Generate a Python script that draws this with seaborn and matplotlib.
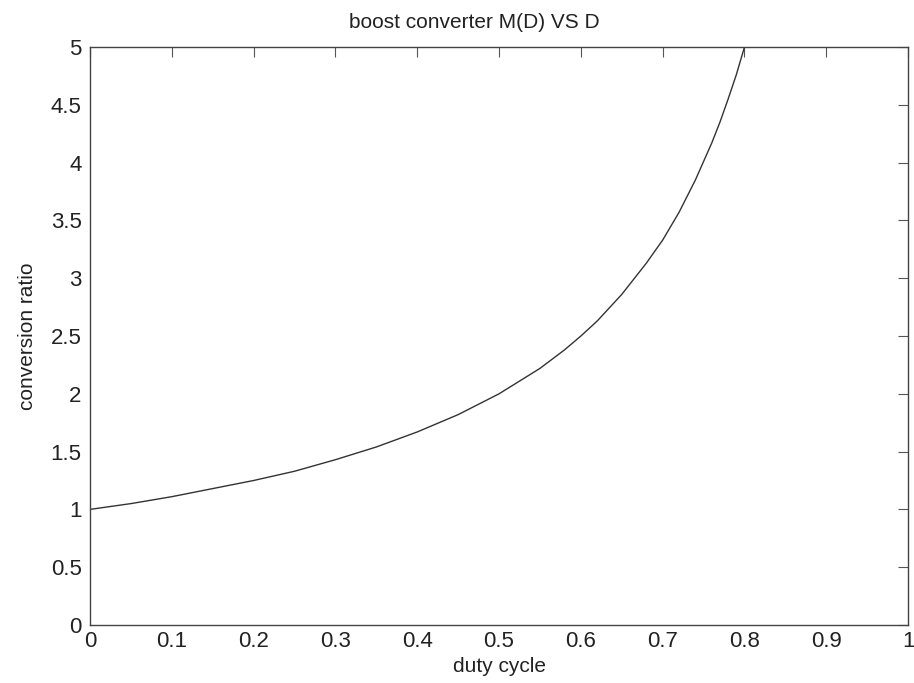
import pandas as pd
import seaborn as sns
import matplotlib.pyplot as plt

# values
duty = [0.0, 0.05, 0.1, 0.15, 0.2, 0.25, 0.3, 0.35, 0.4, 0.45, 0.5, 0.55,
        0.58, 0.6, 0.62, 0.65, 0.68, 0.7, 0.72, 0.74, 0.76, 0.77, 0.78, 0.79, 0.8]
ratio = [1.0, 1.05, 1.11, 1.18, 1.25, 1.33, 1.43, 1.54, 1.67, 1.82, 2.0, 2.22,
         2.38, 2.5, 2.63, 2.86, 3.13, 3.33, 3.57, 3.85, 4.17, 4.35, 4.55, 4.76, 5.0]

xticks = [0, 0.1, 0.2, 0.3, 0.4, 0.5, 0.6, 0.7, 0.8, 0.9, 1]
xlabels = ['0', '0.1', '0.2', '0.3', '0.4', '0.5', '0.6', '0.7', '0.8', '0.9', '1']
yticks = [0, 0.5, 1, 1.5, 2, 2.5, 3, 3.5, 4, 4.5, 5]
ylabels = ['0', '0.5', '1', '1.5', '2', '2.5', '3', '3.5', '4', '4.5', '5']

df = pd.DataFrame({'duty': duty, 'ratio': ratio})

sns.set_style('white')
plt.rcParams['font.family'] = ['Liberation Sans', 'DejaVu Sans']

fig = plt.figure(figsize=(9.14, 6.83), dpi=100)
ax = fig.add_axes([0.0985, 0.085, 0.895, 0.846])
sns.lineplot(x='duty', y='ratio', data=df, color='#333333', linewidth=1.0, ax=ax)

ax.set_xlim(0, 1)
ax.set_ylim(0, 5)
ax.set_xticks(xticks)
ax.set_xticklabels(xlabels)
ax.set_yticks(yticks)
ax.set_yticklabels(ylabels)
ax.tick_params(direction='in', length=7, width=0.8, color='#555555',
               top=True, right=True, labelsize=16, labelcolor='#222222')
ax.tick_params(axis='x', pad=4)
ax.tick_params(axis='y', pad=6)
for s in ax.spines.values():
    s.set_color('#444444')
    s.set_linewidth(1.0)

ax.set_xlabel('duty cycle', fontsize=15, color='#222222', labelpad=4)
ax.set_ylabel('conversion ratio', fontsize=15, color='#222222', labelpad=10)
ax.set_title('boost converter M(D) VS D', fontsize=15, color='#222222',
             pad=14, x=0.47)

plt.savefig('out.png', dpi=100)
plt.close()
